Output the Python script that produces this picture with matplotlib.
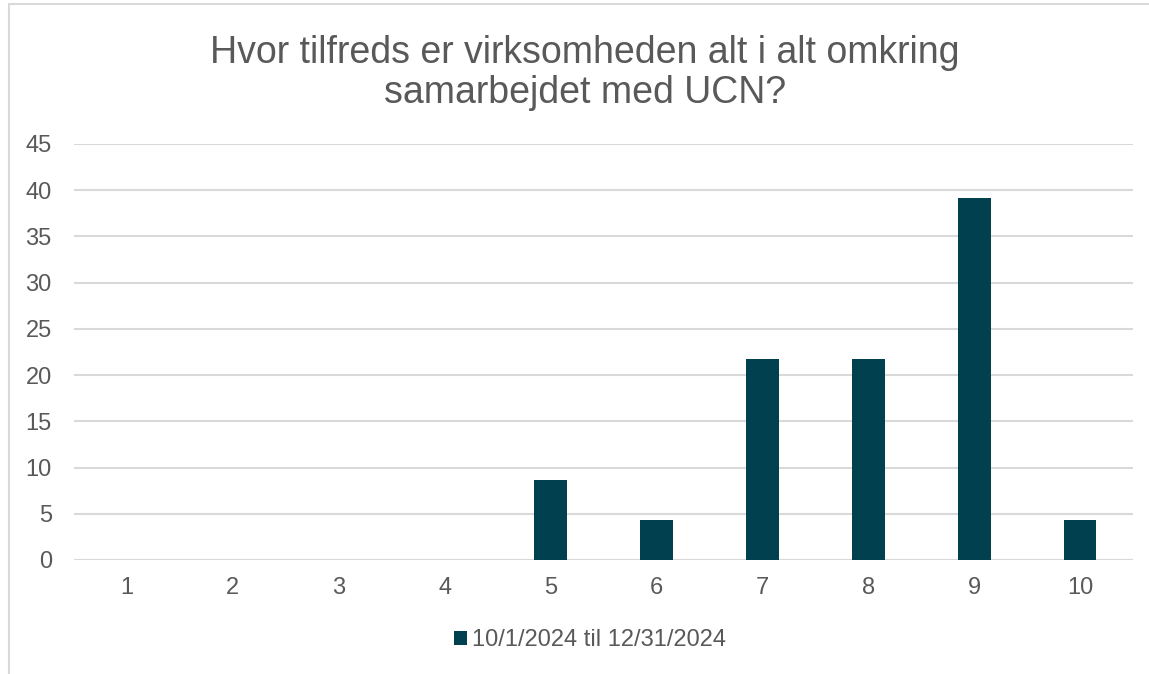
import matplotlib.pyplot as plt
from matplotlib.patches import Rectangle

W, H = 1149, 674

categories = ["1", "2", "3", "4", "5", "6", "7", "8", "9", "10"]
values = [0, 0, 0, 0, 8.7, 4.35, 21.74, 21.74, 39.13, 4.35]
series_name = "10/1/2024 til 12/31/2024"
title = "Hvor tilfreds er virksomheden alt i alt omkring\nsamarbejdet med UCN?"

BAR = "#00404F"
TXT = "#595959"
GRID = "#D9D9D9"

plt.rcParams['font.family'] = ['Liberation Sans', 'DejaVu Sans']

fig = plt.figure(figsize=(W / 100, H / 100), dpi=100)

# chart border (right and bottom fall outside the picture)
fig.patches.append(Rectangle((9 / W, -0.1), 1.2, (H - 4) / H + 0.1,
                             transform=fig.transFigure, fill=False,
                             edgecolor=GRID, linewidth=1.5))

ax = fig.add_axes([74 / W, 1 - 560 / H, (1133 - 74) / W, (560 - 144) / H])
x = range(len(categories))
ax.bar(x, values, width=0.31, color=BAR, zorder=3, label=series_name)
ax.set_xlim(-0.5, len(categories) - 0.5)
ax.set_ylim(0, 45)
ax.set_yticks(range(0, 46, 5))
ax.set_xticks(list(x))
ax.set_xticklabels(categories)
ax.yaxis.grid(True, color=GRID, linewidth=1.5, zorder=0)
for s in ax.spines.values():
    s.set_visible(False)
ax.axhline(0, color=GRID, linewidth=1.5, zorder=2)
ax.tick_params(length=0, labelsize=17, labelcolor=TXT)
ax.tick_params(axis='y', pad=16)
ax.tick_params(axis='x', pad=12)

fig.text(585 / W, 1 - 73 / H, title, ha='center', va='center',
         fontsize=27, color=TXT, linespacing=1.13)

leg = fig.legend(loc='center', bbox_to_anchor=(590 / W, 1 - 640 / H),
                 frameon=False, fontsize=17, handlelength=0.55, handleheight=0.55,
                 handletextpad=0.2, labelcolor=TXT)

fig.savefig("out.png", dpi=100)
